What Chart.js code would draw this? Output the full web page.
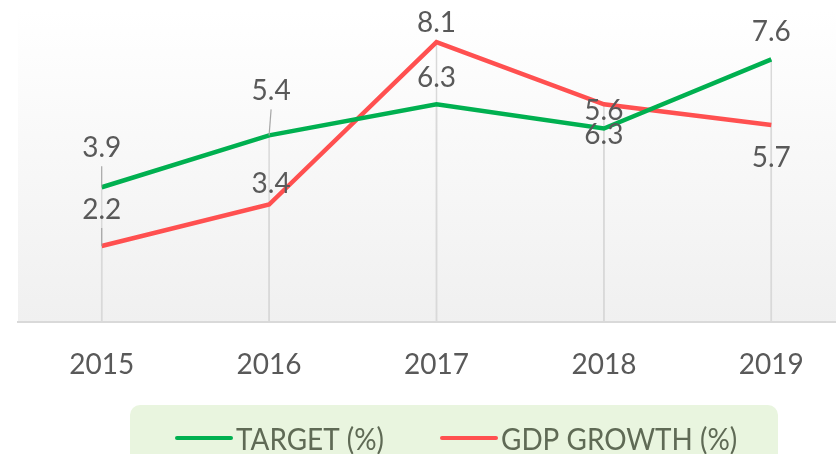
<!DOCTYPE html>
<html>
<head>
<meta charset="utf-8">
<script src="https://cdn.jsdelivr.net/npm/chart.js@4/dist/chart.umd.min.js"></script>
<style>
  html, body { margin: 0; padding: 0; background: #fff; overflow: hidden; width: 836px; height: 454px; }
  canvas { display: block; }
</style>
</head>
<body>
<canvas id="growth-chart" width="855" height="454"></canvas>
<script>
// Chart data
const years = ['2015', '2016', '2017', '2018', '2019'];
const target = [3.9, 5.4, 6.3, 5.6, 7.6];
const gdpGrowth = [2.2, 3.4, 8.1, 6.3, 5.7];
const seriesNames = ['TARGET (%)', 'GDP GROWTH (%)'];

const GREEN = '#00b050';
const RED = '#ff5050';
const LABEL_FONT = '28px Lato';

// label offsets from the point [dx, dy], per series
const labelOffsets = [
    [[0, -39], [2, -44], [0, -26], [0, -18], [0, -27]],
    [[0, -36], [2, -21], [0, -19], [0, 31], [0, 33]]
];
// labels that get a leader line back to the point
const leaders = [[true, true, false, false, false], [true, false, false, false, false]];

// plot area background
const backgroundPlugin = {
    id: 'plotBackground',
    beforeDraw(chart) {
        const { ctx, chartArea } = chart;
        const g = ctx.createLinearGradient(0, chartArea.top, 0, chartArea.bottom);
        g.addColorStop(0, '#ffffff');
        g.addColorStop(1, '#f0f0f0');
        ctx.save();
        ctx.fillStyle = g;
        ctx.fillRect(chartArea.left, chartArea.top, chartArea.right - chartArea.left, chartArea.bottom - chartArea.top);
        ctx.restore();
    }
};

// drop lines from each point to the axis
const dropLinesPlugin = {
    id: 'dropLines',
    beforeDatasetsDraw(chart) {
        const { ctx, chartArea } = chart;
        ctx.save();
        ctx.strokeStyle = '#d9d9d9';
        ctx.lineWidth = 1.5;
        chart.data.datasets.forEach((ds, i) => {
            chart.getDatasetMeta(i).data.forEach(pt => {
                ctx.beginPath();
                ctx.moveTo(pt.x, pt.y);
                ctx.lineTo(pt.x, chartArea.bottom);
                ctx.stroke();
            });
        });
        ctx.restore();
    }
};

// value labels
const valueLabelsPlugin = {
    id: 'valueLabels',
    afterDatasetsDraw(chart) {
        const { ctx } = chart;
        ctx.save();
        ctx.font = LABEL_FONT;
        ctx.textAlign = 'center';
        ctx.textBaseline = 'middle';
        chart.data.datasets.forEach((ds, i) => {
            chart.getDatasetMeta(i).data.forEach((pt, j) => {
                const [dx, dy] = labelOffsets[i][j];
                const lx = pt.x + dx;
                const ly = pt.y + dy;
                if (leaders[i][j]) {
                    ctx.strokeStyle = '#a6a6a6';
                    ctx.lineWidth = 1.2;
                    ctx.beginPath();
                    ctx.moveTo(lx, ly + 18);
                    ctx.lineTo(pt.x, pt.y);
                    ctx.stroke();
                }
                ctx.fillStyle = '#595959';
                ctx.fillText(ds.data[j].toFixed(1), lx, ly);
            });
        });
        ctx.restore();
    }
};

// legend in a green rounded box
const legendBoxPlugin = {
    id: 'legendBox',
    afterDraw(chart) {
        const { ctx } = chart;
        ctx.save();
        ctx.fillStyle = '#e9f5df';
        ctx.beginPath();
        ctx.roundRect(130, 405, 648, 70, 10);
        ctx.fill();

        const items = [
            { x: 175, color: GREEN, text: seriesNames[0] },
            { x: 440, color: RED, text: seriesNames[1] }
        ];
        items.forEach(item => {
            ctx.strokeStyle = item.color;
            ctx.lineWidth = 4;
            ctx.lineCap = 'round';
            ctx.beginPath();
            ctx.moveTo(item.x + 2, 438);
            ctx.lineTo(item.x + 56, 438);
            ctx.stroke();

            ctx.save();
            ctx.translate(item.x + 61, 440);
            ctx.scale(0.93, 1);
            ctx.font = '30px Lato';
            ctx.fillStyle = '#5f6a55';
            ctx.textBaseline = 'middle';
            ctx.fillText(item.text, 0, 0);
            ctx.restore();
        });
        ctx.restore();
    }
};

const ctx = document.getElementById('growth-chart').getContext('2d');
const growthChart = new Chart(ctx, {
    type: 'line',
    data: {
        labels: years,
        datasets: [
            {
                label: seriesNames[0],
                data: target,
                borderColor: GREEN,
                backgroundColor: GREEN,
                borderWidth: 4.5,
                pointRadius: 0,
                tension: 0
            },
            {
                label: seriesNames[1],
                data: gdpGrowth,
                borderColor: RED,
                backgroundColor: RED,
                borderWidth: 4.5,
                pointRadius: 0,
                tension: 0
            }
        ]
    },
    options: {
        responsive: false,
        animation: false,
        layout: { padding: { left: 18, top: 11, right: 0, bottom: 0 } },
        scales: {
            x: {
                offset: true,
                grid: { display: false },
                border: { display: true, color: '#d9d9d9', width: 2 },
                ticks: {
                    color: '#595959',
                    font: { family: 'Lato', size: 28 },
                    padding: 18
                },
                afterFit(scale) {
                    scale.height = 132;
                }
            },
            y: {
                display: false,
                min: 0,
                max: 9
            }
        },
        plugins: {
            legend: { display: false },
            tooltip: { enabled: false }
        }
    },
    plugins: [backgroundPlugin, dropLinesPlugin, valueLabelsPlugin, legendBoxPlugin]
});
</script>
</body>
</html>
